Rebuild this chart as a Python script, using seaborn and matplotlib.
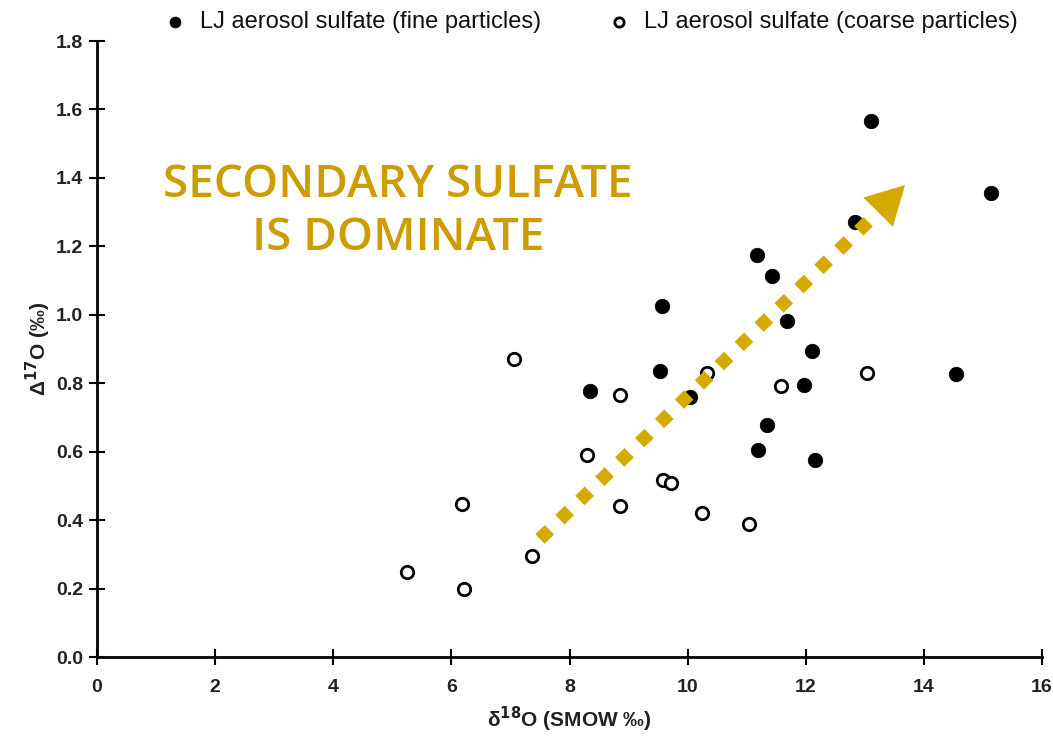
import matplotlib
matplotlib.use("Agg")
import matplotlib.pyplot as plt
import seaborn as sns
import pandas as pd

# d18O (SMOW permil) and D17O (permil) of La Jolla aerosol sulfate
fine_d18o = [13.11, 15.14, 12.83, 11.17, 11.43, 9.57, 11.68, 12.11, 9.53, 11.97,
             14.54, 8.35, 10.04, 11.34, 11.19, 12.16]
fine_d17o = [1.566, 1.356, 1.271, 1.175, 1.113, 1.026, 0.982, 0.894, 0.836, 0.795,
             0.827, 0.777, 0.760, 0.678, 0.605, 0.576]

coarse_d18o = [7.06, 10.33, 8.86, 11.58, 13.04, 8.30, 9.58, 9.72, 6.18, 8.86,
               10.24, 11.04, 7.37, 5.25, 6.21]
coarse_d17o = [0.871, 0.830, 0.766, 0.792, 0.830, 0.590, 0.517, 0.508, 0.447, 0.441,
               0.421, 0.389, 0.295, 0.248, 0.199]

x_ticks = [0, 2, 4, 6, 8, 10, 12, 14, 16]
y_ticks = [0.0, 0.2, 0.4, 0.6, 0.8, 1.0, 1.2, 1.4, 1.6, 1.8]

# trend arrow (start of shaft, base of head, tip) in data units
trend_start = (7.50, 0.345)
trend_base = (13.26, 1.306)
trend_tip = (13.68, 1.379)

annotation = "SECONDARY SULFATE\nIS DOMINATE"

sns.set_theme(style="white")
plt.rcParams["font.family"] = ["Liberation Sans", "DejaVu Sans"]

fig = plt.figure(figsize=(10.53, 7.43), dpi=100)
ax = fig.add_axes([0.0921, 0.1157, 0.8975, 0.8291])

fine = pd.DataFrame({"d18O": fine_d18o, "D17O": fine_d17o})
coarse = pd.DataFrame({"d18O": coarse_d18o, "D17O": coarse_d17o})

sns.scatterplot(data=fine, x="d18O", y="D17O", ax=ax, color="black", s=110,
                edgecolor="black", linewidth=0.5,
                label="LJ aerosol sulfate (fine particles)", zorder=3)
sns.scatterplot(data=coarse, x="d18O", y="D17O", ax=ax, facecolor="white", s=80,
                edgecolor="black", linewidth=2.0,
                label="LJ aerosol sulfate (coarse particles)", zorder=3)

gold = "#D4AA00"
# dotted shaft of the trend arrow
ax.plot([trend_start[0], trend_base[0]], [trend_start[1], trend_base[1]],
        color=gold, lw=9.5, linestyle=(0, (1.0, 1.1)), solid_capstyle="butt",
        dash_capstyle="butt", zorder=4)
# arrow head
ax.annotate("", xy=trend_tip, xytext=trend_base,
            arrowprops=dict(arrowstyle="-|>,head_length=1.1,head_width=0.6",
                            mutation_scale=25, color=gold, lw=0,
                            shrinkA=0, shrinkB=0),
            zorder=4)

ax.text(5.1, 1.30, annotation, color="#CC9C00", fontsize=33,
        family=["Open Sans", "DejaVu Sans"], fontweight="semibold",
        ha="center", va="center", linespacing=1.25, zorder=2)

ax.set_xlim(0, 16)
ax.set_ylim(0, 1.8)
ax.set_xticks(x_ticks)
ax.set_yticks(y_ticks)
ax.set_xticklabels([str(t) for t in x_ticks], fontsize=14, fontweight="bold")
ax.set_yticklabels([f"{t:.1f}" for t in y_ticks], fontsize=14, fontweight="bold")
ax.tick_params(axis="both", direction="inout", length=12, width=1.5,
               color="black", labelcolor="#222222", bottom=True, left=True)
ax.tick_params(axis="y", pad=4)
ax.tick_params(axis="x", pad=10)

for side in ["top", "right"]:
    ax.spines[side].set_visible(False)
for side in ["left", "bottom"]:
    ax.spines[side].set_color("black")
    ax.spines[side].set_linewidth(2)

ax.set_xlabel("δ$^{\\mathbf{18}}$O (SMOW ‰)", fontsize=15, fontweight="bold",
              labelpad=6, color="#222222")
ax.set_ylabel("Δ$^{\\mathbf{17}}$O (‰)", fontsize=15, fontweight="bold",
              labelpad=2, color="#222222")

leg = ax.legend(loc="lower center", bbox_to_anchor=(0.516, 0.99), ncol=2,
                frameon=False, handletextpad=0.05, columnspacing=2.3,
                markerscale=0.75, borderaxespad=0.2,
                prop={"family": ["Liberation Sans Narrow", "Liberation Sans"],
                      "size": 17})
for t in leg.get_texts():
    t.set_color("#111111")

fig.savefig("out.png", dpi=100, facecolor="white")
